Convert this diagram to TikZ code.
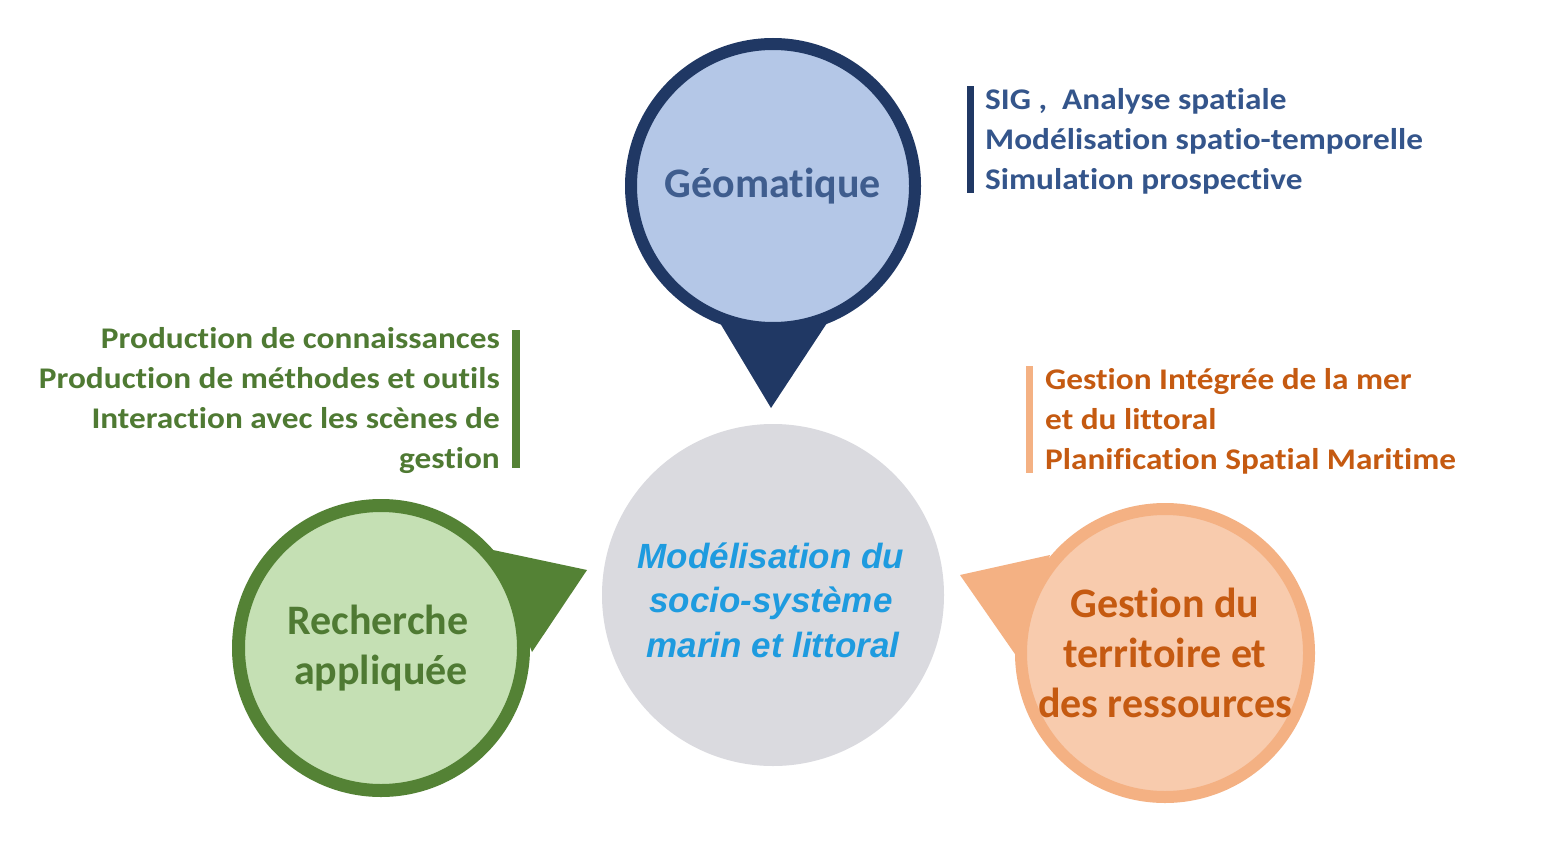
\documentclass[tikz,border=0pt]{standalone}
\usepackage{fontspec}
\setmainfont{Carlito}[Ligatures=NoCommon]
\newfontfamily\listfont{Carlito}[Ligatures=NoCommon, FakeStretch=1.11]
\newfontfamily\arialf{Liberation Sans}
\definecolor{navy}{HTML}{203864}
\definecolor{geofill}{HTML}{B4C7E7}
\definecolor{geotext}{HTML}{3F5D8E}
\definecolor{toptext}{HTML}{34558B}
\definecolor{grn}{HTML}{548235}
\definecolor{grnfill}{HTML}{C5E0B4}
\definecolor{grntext}{HTML}{4F7A33}
\definecolor{orl}{HTML}{F4B183}
\definecolor{orfill}{HTML}{F8CBAD}
\definecolor{ortext}{HTML}{C55A11}
\definecolor{midfill}{HTML}{DADADF}
\definecolor{midtext}{HTML}{1E9BDF}
\tikzset{
  bubble/.style={circle, inner sep=0pt, align=center, font=\bfseries\fontsize{42}{50}\selectfont},
  listtext/.style={inner sep=0pt, font=\listfont\bfseries\fontsize{30}{40}\selectfont},
}
\begin{document}
\begin{tikzpicture}[x=1pt,y=-1pt]
\useasboundingbox[fill=white] (0,0) rectangle (1554,853);
% pointers
\fill[navy] (720,323) -- (827,323) -- (771,408) -- cycle;
\fill[grn] (493,550) -- (587,570) -- (532,652) -- cycle;
\fill[orl] (1050,555) -- (960,575) -- (1017,657) -- cycle;
% circles
\node[bubble, draw=navy, line width=12pt, fill=geofill, text=geotext, minimum size=284pt] (geo) at (773,186) {Géomatique};
\node[bubble, draw=grn, line width=13pt, fill=grnfill, text=grntext, minimum size=285pt] (rech) at (381,648) {\hspace*{-6pt}Recherche\\appliquée};
\node[bubble, draw=orl, line width=12pt, fill=orfill, text=ortext, minimum size=288pt] (gest) at (1165,653) {Gestion du\\territoire et\\des ressources};
\node[circle, inner sep=0pt, fill=midfill, minimum size=342pt] (mid) at (773,595) {};
\node[inner sep=0pt, text=midtext, align=center,
      font=\arialf\bfseries\itshape\fontsize{35}{44.5}\selectfont] (midlabel) at (771,600) {Modélisation du\\socio-système\\\hspace*{4pt}marin et littoral};
% bars
\fill[navy] (967,86) rectangle (974,193);
\fill[grn] (512,330) rectangle (520,468);
\fill[orl] (1026,366) rectangle (1033,473);
% lists
\node[listtext, anchor=west, align=left, text=toptext] (geolist) at (985,141) {SIG ,~ Analyse spatiale\\Modélisation spatio-temporelle\\Simulation prospective};
\node[listtext, anchor=east, align=right, text=grntext] (rechlist) at (500,401) {Production de connaissances\\Production de méthodes et outils\\Interaction avec les scènes de\\gestion};
\node[listtext, anchor=west, align=left, text=ortext] (gestlist) at (1045,421) {Gestion Intégrée de la mer\\et du littoral\\Planification Spatial Maritime};
\end{tikzpicture}
\end{document}
